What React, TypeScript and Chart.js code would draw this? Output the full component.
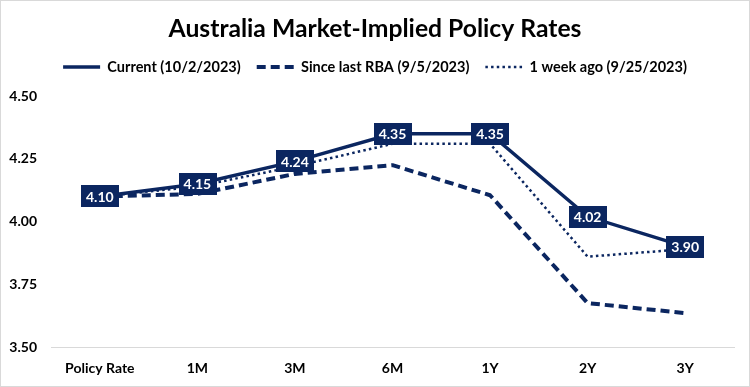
import React, { useEffect, useRef } from "react";
import { Chart, registerables } from "chart.js";

Chart.register(...registerables);

const categories = ["Policy Rate", "1M", "3M", "6M", "1Y", "2Y", "3Y"];
const currentRates = [4.1, 4.15, 4.24, 4.35, 4.35, 4.02, 3.9];
const sinceLastRba = [4.1, 4.11, 4.19, 4.225, 4.105, 3.675, 3.635];
const oneWeekAgo = [4.1, 4.14, 4.22, 4.31, 4.31, 3.86, 3.89];
const yMin = 3.5;
const yMax = 4.5;
const yStep = 0.25;

const NAVY = "#0b2660";
const FONT = "Lato";

const borderPlugin = {
  id: "outerBorder",
  beforeInit(chart: any) {
    const legend = chart.legend;
    if (legend && !legend.__patched) {
      const origFit = legend.fit.bind(legend);
      legend.fit = function () {
        origFit();
        this.height += 12;
      };
      legend.__patched = true;
    }
  },
  beforeDraw(chart: any) {
    const { ctx, width, height } = chart;
    ctx.save();
    ctx.fillStyle = "#ffffff";
    ctx.fillRect(0, 0, width, height);
    ctx.strokeStyle = "#d9d9d9";
    ctx.lineWidth = 1;
    ctx.strokeRect(0.5, 0.5, width - 1, height - 1);
    ctx.restore();
  },
};

const labelPlugin = {
  id: "valueBoxes",
  afterDatasetsDraw(chart: any) {
    const { ctx } = chart;
    const meta = chart.getDatasetMeta(0);
    const data = chart.data.datasets[0].data as number[];
    ctx.save();
    ctx.font = `bold 14px ${FONT}`;
    ctx.textAlign = "center";
    ctx.textBaseline = "middle";
    meta.data.forEach((pt: any, i: number) => {
      const txt = data[i].toFixed(2);
      const w = ctx.measureText(txt).width + 10;
      const h = 22;
      ctx.fillStyle = NAVY;
      ctx.fillRect(Math.round(pt.x - w / 2), Math.round(pt.y - h / 2), Math.round(w), h);
      ctx.fillStyle = "#ffffff";
      ctx.fillText(txt, pt.x, pt.y + 1);
    });
    ctx.restore();
  },
};

export default function App() {
  const ref = useRef<HTMLCanvasElement | null>(null);

  useEffect(() => {
    document.body.style.margin = "0";
    if (!ref.current) return;
    const chart = new Chart(ref.current, {
      type: "line",
      data: {
        labels: categories,
        datasets: [
          {
            label: "Current (10/2/2023)",
            data: currentRates,
            borderColor: NAVY,
            backgroundColor: NAVY,
            borderWidth: 3.5,
            pointRadius: 0,
            tension: 0,
          },
          {
            label: "Since last RBA (9/5/2023)",
            data: sinceLastRba,
            borderColor: NAVY,
            backgroundColor: NAVY,
            borderWidth: 4,
            borderDash: [9, 5],
            borderJoinStyle: "round",
            pointRadius: 0,
            tension: 0,
          },
          {
            label: "1 week ago (9/25/2023)",
            data: oneWeekAgo,
            borderColor: NAVY,
            backgroundColor: NAVY,
            borderWidth: 2.5,
            borderDash: [2.5, 3.2],
            pointRadius: 0,
            tension: 0,
          },
        ],
      },
      options: {
        responsive: false,
        animation: false,
        layout: { padding: { left: 0, right: 0, top: 0, bottom: 0 } },
        plugins: {
          title: {
            display: true,
            text: "Australia Market-Implied Policy Rates",
            color: "#000",
            font: { family: FONT, size: 24.7, weight: "bold" },
            padding: { top: 14, bottom: 0 },
          },
          legend: {
            display: true,
            labels: {
              usePointStyle: true,
              pointStyleWidth: 37,
              color: "#000",
              font: { family: FONT, size: 14.5, weight: "bold" },
              padding: 16,
              generateLabels: (chart: any) =>
                chart.data.datasets.map((ds: any, i: number) => ({
                  text: ds.label,
                  fillStyle: NAVY,
                  strokeStyle: NAVY,
                  fontColor: "#000",
                  lineWidth: ds.borderWidth,
                  lineDash: ds.borderDash || [],
                  lineCap: "butt",
                  pointStyle: "line",
                  hidden: false,
                  datasetIndex: i,
                })),
            },
          },
          tooltip: { enabled: false },
        },
        scales: {
          x: {
            offset: true,
            grid: { display: true, color: "transparent", drawTicks: false, offset: true },
            border: { display: true, color: "#d9d9d9", width: 1 },
            ticks: {
              color: "#000",
              font: { family: FONT, size: 14, weight: "bold" },
              padding: 13,
              maxRotation: 0,
            },
            afterFit: (s: any) => {
              s.height = 40;
            },
          },
          y: {
            min: yMin,
            max: yMax,
            grid: { display: false, drawTicks: false },
            border: { display: false },
            ticks: {
              stepSize: yStep,
              color: "#000",
              font: { family: FONT, size: 14, weight: "bold" },
              padding: 14,
              callback: (v: any) => Number(v).toFixed(2),
            },
            afterFit: (s: any) => {
              s.width = 51;
            },
          },
          yRightSpacer: {
            position: "right",
            display: true,
            min: yMin,
            max: yMax,
            grid: { display: false, drawTicks: false },
            border: { display: false },
            ticks: { display: false },
            afterFit: (s: any) => {
              s.width = 16;
            },
          },
        },
      },
      plugins: [borderPlugin, labelPlugin],
    });
    return () => chart.destroy();
  }, []);

  return (
    <div style={{ position: "fixed", left: 0, top: 0, width: 750, height: 387 }}>
      <canvas ref={ref} width={750} height={387} style={{ display: "block" }} />
    </div>
  );
}
